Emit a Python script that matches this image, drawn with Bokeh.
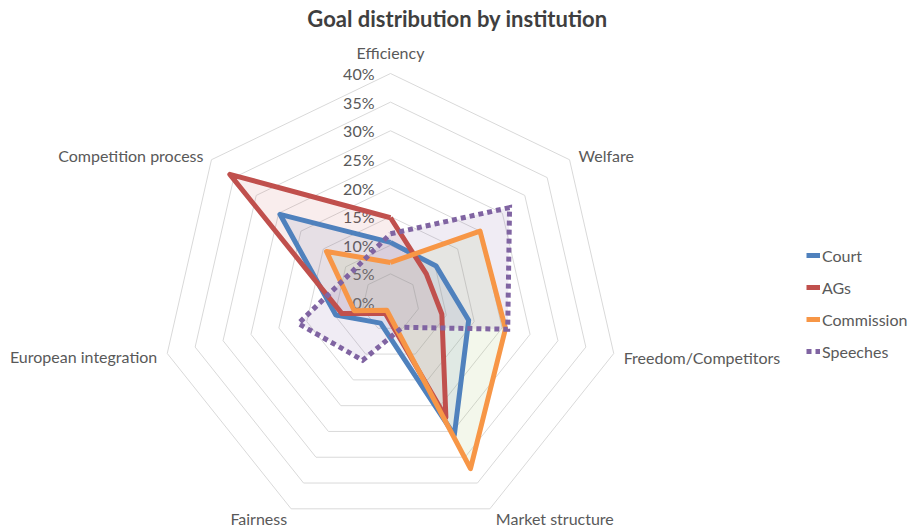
import numpy as np
from bokeh.plotting import figure
from bokeh.models import Range1d, Legend, LegendItem, ColumnDataSource, Label
from bokeh.embed import file_html
from bokeh.resources import INLINE
from bokeh.core.properties import value

# ---------------- data ----------------
categories = ["Efficiency", "Welfare", "Freedom/Competitors", "Market structure",
              "Fairness", "European integration", "Competition process"]
court = [10.5, 10.2, 14.0, 25.7, 4.0, 9.8, 24.7]
ags = [14.8, 8.0, 9.2, 22.3, 2.1, 8.7, 35.9]
commission = [7.0, 20.0, 20.6, 32.2, 1.5, 6.5, 14.3]
speeches = [12.0, 26.6, 21.0, 4.8, 11.2, 16.5, 8.6]
series_names = ["Court", "AGs", "Commission", "Speeches"]
tick_values = [0, 5, 10, 15, 20, 25, 30, 35, 40]
tick_labels = ["0%", "5%", "10%", "15%", "20%", "25%", "30%", "35%", "40%"]
title_text = "Goal distribution by institution"

# ---------------- styling ----------------
line_colors = ["#4F81BD", "#C0504D", "#F79646", "#8064A2"]
fill_colors = ["#4F81BD", "#C0504D", "#9BBB59", "#8064A2"]
fill_alphas = [0.12, 0.10, 0.12, 0.12]
dashes = ["solid", "solid", "solid", "5 4"]
text_color = "#595959"
FONT = "Lato"

W, H = 909, 528
cx, cy = 390, 302           # centre of radar within the figure (px)
R = 229                      # px radius of outer ring
vmax = tick_values[-1]
s = R / vmax                 # px per data unit

p = figure(width=W, height=H, output_backend="svg", toolbar_location=None,
           x_range=Range1d(-cx / s, (W - cx) / s),
           y_range=Range1d(-(H - cy) / s, cy / s),
           min_border=0)
p.axis.visible = False
p.grid.visible = False
p.outline_line_color = None
p.background_fill_color = "white"

n = len(categories)
ang = np.pi / 2 - np.arange(n) * 2 * np.pi / n
ca, sa = np.cos(ang), np.sin(ang)

# grid rings
ring_xs, ring_ys = [], []
for t in tick_values[1:]:
    ring_xs.append(list(np.append(t * ca, t * ca[0])))
    ring_ys.append(list(np.append(t * sa, t * sa[0])))
p.multi_line(ring_xs, ring_ys, line_color="#D9D9D9", line_width=1)

# tick labels
p.text(x=[0] * len(tick_values), y=tick_values, text=tick_labels,
       x_offset=-16, text_align="right", text_baseline="middle",
       text_font=value(FONT), text_font_size="16px", text_color=text_color)

# category labels
lab_dx = [0, 9, 10, 6, -4, -10, -8]
lab_dy = [-21, -4, 4, 10, 10, 3, -4]
lab_align = ["center", "left", "left", "left", "right", "right", "right"]
lab_src = ColumnDataSource(dict(x=vmax * ca, y=vmax * sa, text=categories,
                                dx=lab_dx, dy=lab_dy, al=lab_align))
p.text(x="x", y="y", text="text", x_offset="dx", y_offset="dy", text_align="al",
       text_baseline="middle", text_font=value(FONT), text_font_size="16px",
       text_color=text_color, source=lab_src)

all_series = [court, ags, commission, speeches]

# fills
for vals, fc, fa in zip(all_series, fill_colors, fill_alphas):
    v = np.array(vals, dtype=float)
    p.patch(v * ca, v * sa, fill_color=fc, fill_alpha=fa, line_color=None)

# outlines + legend
items = []
for vals, name, lc, dash in zip(all_series, series_names, line_colors, dashes):
    v = np.array(vals, dtype=float)
    xs = np.append(v * ca, v[0] * ca[0])
    ys = np.append(v * sa, v[0] * sa[0])
    r_line = p.line(xs, ys, line_color=lc, line_width=5, line_dash=dash,
                    line_join="round" if dash == "solid" else "miter",
                    line_cap="butt")
    r_m = p.scatter([], [], marker="square", size=10, fill_color=lc, line_color=lc)
    r_d = p.scatter([], [], marker="square", size=3, fill_color="white", line_color=None)
    items.append(LegendItem(label=name, renderers=[r_line, r_m, r_d]))

legend = Legend(items=items, location=(806, 167), orientation="vertical",
                glyph_width=14, glyph_height=20, label_height=20, spacing=12,
                label_standoff=2, padding=0, margin=0,
                label_text_font=FONT, label_text_font_size="16px",
                label_text_color=text_color, background_fill_alpha=0,
                border_line_color=None)
p.add_layout(legend, "center")

title = Label(x=457, y=H - 18, x_units="screen", y_units="screen", text=title_text,
              text_align="center", text_baseline="middle", text_font=FONT,
              text_font_size="22px", text_font_style="bold", text_color="#3F3F3F")
p.add_layout(title)

open("out.html", "w").write(file_html(p, INLINE))
